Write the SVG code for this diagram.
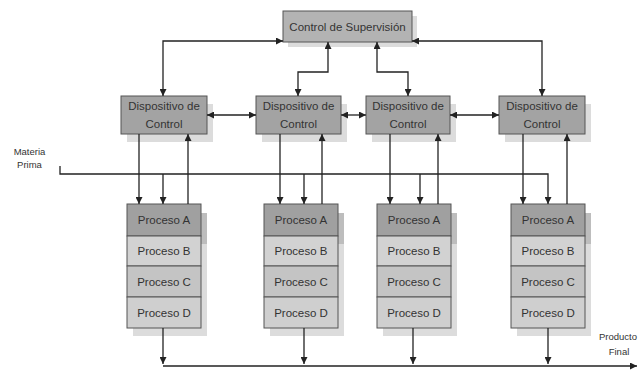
<svg xmlns="http://www.w3.org/2000/svg" width="640" height="370" viewBox="0 0 640 370">
<style>
text{font-family:"Liberation Sans",Arial,sans-serif;fill:#333;text-anchor:middle;dominant-baseline:central}
.t{font-size:11.5px}
.s{font-size:9.5px}
.box{stroke:#555;stroke-width:1}
.sup{fill:#b3b3b3}
.dc{fill:#a3a3a3}
.pa{fill:#a0a0a0}
.pb{fill:#d2d2d2}
.pc{fill:#c4c4c4}
.pd{fill:#cfcfcf}
.sh{fill:#dcdcdc}
.sha{fill:#bdbdbd}
.c{fill:none;stroke:#222;stroke-width:1.3}
</style>
<defs>
<marker id="a" viewBox="0 0 10 10" refX="10" refY="5" markerWidth="7" markerHeight="7" markerUnits="userSpaceOnUse" orient="auto-start-reverse">
<path d="M0,0 L10,5 L0,10 z" fill="#222"/>
</marker>
</defs>
<rect width="640" height="370" fill="#fff"/>

<g id="sup">
<rect class="sh" x="288" y="16" width="129" height="31"/>
<rect class="box sup" x="283" y="11" width="129" height="31"/>
<text class="t" x="347.5" y="26.5">Control de Supervisión</text>
</g>

<g id="dc1">
<rect class="sh" x="127" y="104" width="86" height="38"/>
<rect class="box dc" x="121" y="96" width="86" height="38"/>
<text class="t" x="164" y="106">Dispositivo de</text>
<text class="t" x="164" y="124">Control</text>
</g>
<g id="dc2">
<rect class="sh" x="262" y="104" width="85" height="38"/>
<rect class="box dc" x="256" y="96" width="85" height="38"/>
<text class="t" x="298.5" y="106">Dispositivo de</text>
<text class="t" x="298.5" y="124">Control</text>
</g>
<g id="dc3">
<rect class="sh" x="372" y="104" width="84" height="38"/>
<rect class="box dc" x="366" y="96" width="84" height="38"/>
<text class="t" x="408" y="106">Dispositivo de</text>
<text class="t" x="408" y="124">Control</text>
</g>
<g id="dc4">
<rect class="sh" x="505" y="104" width="86" height="38"/>
<rect class="box dc" x="499" y="96" width="86" height="38"/>
<text class="t" x="542" y="106">Dispositivo de</text>
<text class="t" x="542" y="124">Control</text>
</g>

<g id="stack1">
<rect class="sha" x="133" y="213" width="74" height="31"/>
<rect class="sh" x="133" y="244" width="74" height="92"/>
<rect class="box pa" x="127" y="204" width="74" height="32"/>
<rect class="box pb" x="127" y="236" width="74" height="30"/>
<rect class="box pc" x="127" y="266" width="74" height="31"/>
<rect class="box pd" x="127" y="297" width="74" height="31"/>
<text class="t" x="164" y="220">Proceso A</text>
<text class="t" x="164" y="251">Proceso B</text>
<text class="t" x="164" y="281.5">Proceso C</text>
<text class="t" x="164" y="312.5">Proceso D</text>
</g>
<g id="stack2">
<rect class="sha" x="270" y="213" width="74" height="31"/>
<rect class="sh" x="270" y="244" width="74" height="92"/>
<rect class="box pa" x="264" y="204" width="74" height="32"/>
<rect class="box pb" x="264" y="236" width="74" height="30"/>
<rect class="box pc" x="264" y="266" width="74" height="31"/>
<rect class="box pd" x="264" y="297" width="74" height="31"/>
<text class="t" x="301" y="220">Proceso A</text>
<text class="t" x="301" y="251">Proceso B</text>
<text class="t" x="301" y="281.5">Proceso C</text>
<text class="t" x="301" y="312.5">Proceso D</text>
</g>
<g id="stack3">
<rect class="sha" x="383" y="213" width="74" height="31"/>
<rect class="sh" x="383" y="244" width="74" height="92"/>
<rect class="box pa" x="377" y="204" width="74" height="32"/>
<rect class="box pb" x="377" y="236" width="74" height="30"/>
<rect class="box pc" x="377" y="266" width="74" height="31"/>
<rect class="box pd" x="377" y="297" width="74" height="31"/>
<text class="t" x="414" y="220">Proceso A</text>
<text class="t" x="414" y="251">Proceso B</text>
<text class="t" x="414" y="281.5">Proceso C</text>
<text class="t" x="414" y="312.5">Proceso D</text>
</g>
<g id="stack4">
<rect class="sha" x="517" y="213" width="74" height="31"/>
<rect class="sh" x="517" y="244" width="74" height="92"/>
<rect class="box pa" x="511" y="204" width="74" height="32"/>
<rect class="box pb" x="511" y="236" width="74" height="30"/>
<rect class="box pc" x="511" y="266" width="74" height="31"/>
<rect class="box pd" x="511" y="297" width="74" height="31"/>
<text class="t" x="548" y="220">Proceso A</text>
<text class="t" x="548" y="251">Proceso B</text>
<text class="t" x="548" y="281.5">Proceso C</text>
<text class="t" x="548" y="312.5">Proceso D</text>
</g>

<g id="labels">
<text class="s" x="29.5" y="151">Materia</text>
<text class="s" x="29.5" y="164">Prima</text>
<text class="s" x="618" y="336">Producto</text>
<text class="s" x="619" y="351">Final</text>
</g>

<g id="connectors">
<path class="c" d="M283,41 H163 V96" marker-start="url(#a)" marker-end="url(#a)"/>
<path class="c" d="M412,41 H542 V96" marker-start="url(#a)" marker-end="url(#a)"/>
<path class="c" d="M328,42 V72 H298 V96" marker-start="url(#a)" marker-end="url(#a)"/>
<path class="c" d="M377,42 V72 H408 V96" marker-start="url(#a)" marker-end="url(#a)"/>
<path class="c" d="M207,115 H256" marker-start="url(#a)" marker-end="url(#a)"/>
<path class="c" d="M341,115 H366" marker-start="url(#a)" marker-end="url(#a)"/>
<path class="c" d="M450,115 H499" marker-start="url(#a)" marker-end="url(#a)"/>
<path class="c" d="M139,134 V204" marker-end="url(#a)"/>
<path class="c" d="M280,134 V204" marker-end="url(#a)"/>
<path class="c" d="M390,134 V204" marker-end="url(#a)"/>
<path class="c" d="M523,134 V204" marker-end="url(#a)"/>
<path class="c" d="M188,204 V134" marker-end="url(#a)"/>
<path class="c" d="M322,204 V134" marker-end="url(#a)"/>
<path class="c" d="M438,204 V134" marker-end="url(#a)"/>
<path class="c" d="M567,204 V134" marker-end="url(#a)"/>
<path class="c" d="M60,166 V174 H548 V204" marker-end="url(#a)"/>
<path class="c" d="M163,174 V204" marker-end="url(#a)"/>
<path class="c" d="M304,174 V204" marker-end="url(#a)"/>
<path class="c" d="M420,174 V204" marker-end="url(#a)"/>
<path class="c" d="M163,328 V364" marker-end="url(#a)"/>
<path class="c" d="M304,328 V364" marker-end="url(#a)"/>
<path class="c" d="M413,328 V364" marker-end="url(#a)"/>
<path class="c" d="M548,328 V364" marker-end="url(#a)"/>
<path class="c" d="M163,366 H637" marker-end="url(#a)"/>
</g>
</svg>
